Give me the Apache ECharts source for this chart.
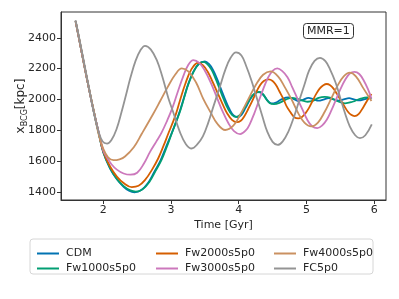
<!DOCTYPE html>
<html><head><meta charset="utf-8">
<script src="https://cdn.jsdelivr.net/npm/echarts@6/dist/echarts.min.js"></script>
<style>html,body{margin:0;padding:0;background:#fff}#c{width:399px;height:299px}</style>
</head><body><div id="c"></div>
<script>
const seriesNames = ['CDM','Fw1000s5p0','Fw2000s5p0','Fw3000s5p0','Fw4000s5p0','FC5p0'];
const xTicks = [2,3,4,5,6];
const yTicks = [1400,1600,1800,2000,2200,2400];

const cdm = [[1.59,2508],[1.65,2375],[1.72,2218],[1.79,2065],[1.86,1920],[1.93,1785],[2.00,1656],[2.10,1552],[2.20,1482],[2.30,1434],[2.38,1408],[2.46,1398],[2.56,1412],[2.66,1458],[2.75,1528],[2.84,1600],[2.92,1685],[3.00,1770],[3.07,1850],[3.13,1925],[3.19,2010],[3.25,2095],[3.33,2180],[3.41,2230],[3.50,2246],[3.56,2230],[3.62,2192],[3.68,2133],[3.74,2066],[3.80,1999],[3.86,1940],[3.92,1898],[3.98,1885],[4.04,1900],[4.10,1945],[4.16,1995],[4.22,2032],[4.28,2048],[4.32,2045],[4.38,2020],[4.43,1990],[4.48,1974],[4.55,1980],[4.63,2000],[4.73,2013],[4.80,2005],[4.88,1990],[4.95,1998],[5.03,2010],[5.10,2002],[5.18,1992],[5.25,1999],[5.33,2008],[5.40,2001],[5.48,1993],[5.55,2000],[5.63,2008],[5.70,2001],[5.78,1994],[5.85,2000],[5.93,2008],[5.96,2006]];

const fw1000 = [[1.59,2508],[1.65,2375],[1.72,2218],[1.79,2065],[1.86,1920],[1.93,1785],[2.00,1658],[2.10,1555],[2.20,1485],[2.30,1438],[2.40,1410],[2.48,1402],[2.58,1418],[2.68,1465],[2.77,1535],[2.86,1608],[2.94,1695],[3.01,1779],[3.08,1860],[3.14,1932],[3.20,2020],[3.26,2104],[3.34,2185],[3.41,2230],[3.48,2244],[3.54,2228],[3.60,2192],[3.66,2133],[3.72,2066],[3.78,1999],[3.84,1940],[3.90,1900],[3.96,1887],[4.02,1900],[4.08,1940],[4.14,1985],[4.20,2025],[4.26,2045],[4.31,2049],[4.36,2035],[4.41,2000],[4.46,1975],[4.52,1970],[4.60,1978],[4.70,2000],[4.78,2010],[4.88,2002],[4.96,1990],[5.02,1985],[5.10,1992],[5.18,2010],[5.27,2017],[5.36,2010],[5.45,1990],[5.57,1975],[5.68,1985],[5.80,2005],[5.90,2013],[5.96,2008]];

const fw2000 = [[1.59,2508],[1.65,2375],[1.72,2218],[1.79,2065],[1.86,1920],[1.93,1788],[2.00,1662],[2.10,1565],[2.20,1500],[2.30,1458],[2.42,1432],[2.52,1440],[2.62,1480],[2.72,1545],[2.81,1617],[2.89,1700],[2.96,1779],[3.06,1890],[3.13,1990],[3.21,2100],[3.30,2195],[3.40,2238],[3.47,2222],[3.54,2181],[3.61,2118],[3.685,2045],[3.76,1972],[3.83,1909],[3.90,1868],[3.97,1853],[4.03,1862],[4.085,1893],[4.14,1938],[4.20,1991],[4.255,2044],[4.31,2089],[4.37,2120],[4.44,2130],[4.50,2120],[4.55,2093],[4.60,2053],[4.66,2003],[4.71,1953],[4.77,1913],[4.82,1885],[4.88,1877],[4.93,1885],[4.985,1910],[5.04,1947],[5.09,1990],[5.14,2033],[5.195,2070],[5.25,2092],[5.30,2100],[5.35,2092],[5.40,2070],[5.45,2036],[5.505,1996],[5.56,1956],[5.61,1922],[5.66,1900],[5.71,1892],[5.77,1905],[5.84,1950],[5.90,1995],[5.96,2035]];

const fw3000 = [[1.59,2508],[1.65,2375],[1.72,2218],[1.79,2065],[1.86,1920],[1.93,1790],[2.00,1668],[2.05,1627],[2.12,1580],[2.20,1545],[2.30,1520],[2.40,1512],[2.50,1525],[2.60,1585],[2.69,1660],[2.78,1725],[2.86,1785],[2.94,1860],[3.02,1945],[3.10,2050],[3.18,2150],[3.25,2220],[3.33,2255],[3.42,2235],[3.50,2186],[3.59,2106],[3.675,2015],[3.76,1924],[3.85,1844],[3.93,1795],[4.02,1775],[4.11,1802],[4.16,1837],[4.23,1910],[4.295,1988],[4.36,2065],[4.43,2139],[4.50,2186],[4.57,2201],[4.64,2185],[4.72,2144],[4.79,2080],[4.865,2007],[4.94,1935],[5.01,1870],[5.08,1828],[5.16,1814],[5.23,1830],[5.30,1868],[5.37,1930],[5.435,1997],[5.50,2065],[5.57,2126],[5.64,2168],[5.71,2179],[5.78,2165],[5.85,2120],[5.91,2065],[5.96,2006]];

const fw4000 = [[1.59,2508],[1.65,2378],[1.72,2220],[1.79,2068],[1.86,1925],[1.93,1775],[2.00,1680],[2.07,1625],[2.15,1606],[2.24,1612],[2.32,1630],[2.45,1690],[2.57,1779],[2.74,1909],[2.84,1990],[2.95,2080],[3.06,2160],[3.16,2201],[3.26,2180],[3.37,2110],[3.48,2000],[3.58,1920],[3.68,1845],[3.80,1802],[3.92,1830],[4.02,1900],[4.14,2000],[4.26,2100],[4.36,2160],[4.47,2182],[4.58,2150],[4.68,2080],[4.78,2000],[4.88,1910],[4.97,1850],[5.07,1825],[5.17,1850],[5.27,1920],[5.36,2000],[5.46,2090],[5.55,2150],[5.64,2174],[5.73,2150],[5.83,2080],[5.96,1990]];

const fc5p0 = [[1.59,2514],[1.65,2385],[1.72,2228],[1.79,2072],[1.86,1915],[1.93,1790],[1.99,1727],[2.055,1714],[2.12,1737],[2.195,1807],[2.27,1920],[2.336,2031],[2.40,2140],[2.476,2250],[2.55,2320],[2.616,2348],[2.70,2325],[2.79,2255],[2.87,2150],[2.96,2010],[3.03,1920],[3.13,1790],[3.22,1710],[3.306,1682],[3.39,1710],[3.47,1760],[3.55,1850],[3.63,1960],[3.72,2080],[3.80,2190],[3.88,2270],[3.96,2305],[4.04,2285],[4.11,2217],[4.19,2120],[4.27,2005],[4.35,1890],[4.42,1793],[4.50,1725],[4.576,1705],[4.65,1728],[4.73,1788],[4.81,1880],[4.89,1988],[4.97,2095],[5.04,2188],[5.12,2250],[5.20,2270],[5.28,2248],[5.35,2194],[5.43,2110],[5.50,2010],[5.57,1910],[5.64,1826],[5.72,1768],[5.79,1749],[5.87,1768],[5.965,1838]];

const colors = ['#0173B2','#029E73','#D55E00','#CC78BC','#CA9161','#949494'];
const allData = [cdm, fw1000, fw2000, fw3000, fw4000, fc5p0];

const chart = echarts.init(document.getElementById('c'), null, {renderer:'canvas'});
const font = 'DejaVu Sans';
const txt = '#262626';
const legendCols = [[0,1],[2,3],[4,5]];
const legendLeft = [32, 151, 269];
const lineIcon = 'path://M0,0 L22,0 L22,2 L0,2 Z';

chart.setOption({
  animation:false,
  backgroundColor:'#fff',
  title:{text:'MMR=1', left:303, top:23, padding:[3,4,2,4], borderColor:'#333', borderWidth:1, borderRadius:3,
    textStyle:{fontFamily:font, fontSize:11, fontWeight:'normal', color:txt}},
  grid:{left:61, top:12, width:325, height:188, show:true, borderColor:'#333', borderWidth:1, containLabel:false, outerBoundsMode:'none'},
  legend: legendCols.map((idx,k)=>({
    orient:'vertical', left:legendLeft[k], top:243, itemWidth:22, itemHeight:11, itemGap:4,
    icon: lineIcon,
    data: idx.map(i=>({name:seriesNames[i], icon:lineIcon})),
    textStyle:{fontFamily:font, fontSize:11, color:txt, padding:[0,0,0,2]}
  })),
  graphic:[{type:'rect', shape:{x:30, y:239, width:343, height:35, r:3}, style:{fill:'none', stroke:'#d6d6d6', lineWidth:1}, z:-1}],
  xAxis:{type:'value', min:1.375, max:6.175,
    name:'Time [Gyr]', nameLocation:'middle', nameGap:20, nameMoveOverlap:false,
    nameTextStyle:{fontFamily:font, fontSize:11, color:txt},
    axisLine:{show:true, lineStyle:{color:'#333'}},
    axisTick:{show:true, length:4, customValues:xTicks, lineStyle:{color:'#333'}},
    axisLabel:{customValues:xTicks, fontFamily:font, fontSize:11, color:txt, margin:5},
    splitLine:{show:false}},
  yAxis:{type:'value', min:1348, max:2567,
    name:'{a|x}{b|BCG}{a|[kpc]}', nameLocation:'middle', nameGap:32, nameRotate:90, nameMoveOverlap:false,
    nameTextStyle:{rich:{a:{fontFamily:font, fontSize:12, color:txt, lineHeight:16, verticalAlign:'middle'}, b:{fontFamily:font, fontSize:8, color:txt, lineHeight:16, verticalAlign:'bottom'}}},
    axisLine:{show:true, lineStyle:{color:'#333'}},
    axisTick:{show:true, length:4, customValues:yTicks, lineStyle:{color:'#333'}},
    axisLabel:{customValues:yTicks, formatter:(v)=>String(v), fontFamily:font, fontSize:11, color:txt, margin:5},
    splitLine:{show:false}},
  series: allData.map((d,i)=>({
    name:seriesNames[i], type:'line', data:d, smooth:0.4, symbol:'none',
    lineStyle:{width:1.8, color:colors[i]}, itemStyle:{color:colors[i]}
  }))
});
</script></body></html>
